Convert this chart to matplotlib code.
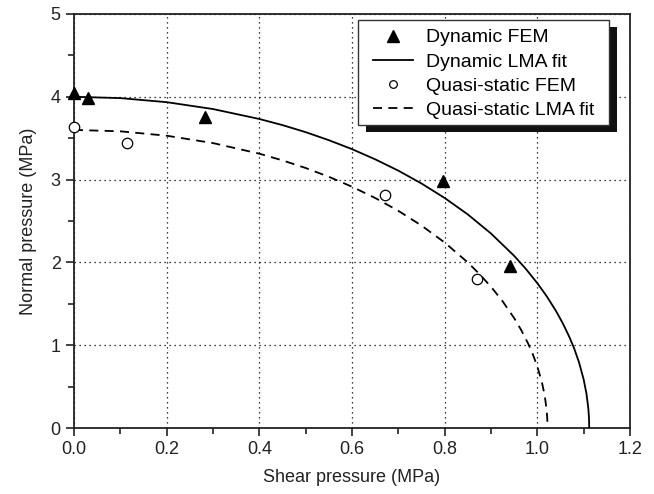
import matplotlib
matplotlib.use("Agg")
import matplotlib.pyplot as plt
from matplotlib.patches import Rectangle
from matplotlib.ticker import MultipleLocator, FormatStrFormatter

plt.rcParams['font.family'] = ['Liberation Sans', 'DejaVu Sans']

# ==================== data ====================
dyn_fem_x = [0.0, 0.03, 0.283, 0.797, 0.941]
dyn_fem_y = [4.05, 3.98, 3.75, 2.98, 1.96]

qs_fem_x = [0.0, 0.115, 0.671, 0.869]
qs_fem_y = [3.635, 3.446, 2.81, 1.80]

dyn_fit_x = [0.0, 0.1, 0.2, 0.3, 0.4, 0.45, 0.5, 0.55, 0.6, 0.65, 0.7, 0.75, 0.8, 0.85,
             0.9, 0.95, 0.975, 1.0, 1.02, 1.04, 1.055, 1.07, 1.08, 1.09, 1.10, 1.106,
             1.110, 1.1115, 1.112]
dyn_fit_y = [4.0, 3.984, 3.935, 3.852, 3.732, 3.658, 3.573, 3.476, 3.368, 3.245, 3.108, 2.953,
             2.778, 2.579, 2.349, 2.079, 1.923, 1.749, 1.593, 1.416, 1.264, 1.089, 0.953,
             0.792, 0.586, 0.415, 0.24, 0.12, 0.0]

qs_fit_x = [0.0, 0.1, 0.2, 0.3, 0.4, 0.45, 0.5, 0.55, 0.6, 0.65, 0.7, 0.75, 0.8, 0.85,
            0.875, 0.9, 0.925, 0.95, 0.965, 0.98, 0.99, 1.0, 1.01, 1.016, 1.02, 1.0215, 1.022]
qs_fit_y = [3.6, 3.583, 3.530, 3.441, 3.313, 3.232, 3.140, 3.034, 2.914, 2.778, 2.623, 2.445,
            2.240, 1.999, 1.860, 1.706, 1.531, 1.327, 1.185, 1.021, 0.894, 0.743, 0.550,
            0.389, 0.225, 0.11, 0.0]
# =================================================================

fig = plt.figure(figsize=(6.54, 4.94), dpi=100)
ax = fig.add_axes([0.1131, 0.1336, 0.8502, 0.8381])

ax.plot(dyn_fem_x, dyn_fem_y, linestyle='none', marker='^', color='black',
        markersize=9, label='Dynamic FEM', clip_on=False, zorder=4)
ax.plot(dyn_fit_x, dyn_fit_y, color='black', lw=1.3, label='Dynamic LMA fit', zorder=3)
ax.plot(qs_fem_x, qs_fem_y, linestyle='none', marker='o', markerfacecolor='white',
        markeredgecolor='black', markeredgewidth=0.9, markersize=7.5,
        label='Quasi-static FEM', clip_on=False, zorder=4)
ax.plot(qs_fit_x, qs_fit_y, color='black', lw=1.3, linestyle=(0, (5, 3.5)),
        label='Quasi-static LMA fit', zorder=3)

ax.set_xlim(0, 1.2)
ax.set_ylim(0, 5)
ax.xaxis.set_major_locator(MultipleLocator(0.2))
ax.xaxis.set_minor_locator(MultipleLocator(0.1))
ax.yaxis.set_major_locator(MultipleLocator(1))
ax.yaxis.set_minor_locator(MultipleLocator(0.5))
ax.xaxis.set_major_formatter(FormatStrFormatter('%.1f'))

ax.tick_params(which='major', direction='out', length=6, width=1.2, labelsize=13,
               color='#222222', labelcolor='#222222')
ax.tick_params(which='minor', direction='out', length=4, width=1.2, color='#222222')
for s in ax.spines.values():
    s.set_linewidth(1.3)
    s.set_color('#222222')

ax.grid(True, which='major', linestyle=(0, (1, 3)), color='black', lw=0.9)

ax.set_xlabel('Shear pressure (MPa)', fontsize=13, labelpad=8, color='#222222')
ax.set_ylabel('Normal pressure (MPa)', fontsize=13, labelpad=10, color='#222222')

# legend entries without a frame; frame and drop shadow drawn by hand
leg = ax.legend(loc='upper left', bbox_to_anchor=(0.537, 0.964), fontsize=14,
                frameon=False, handlelength=2.1, handletextpad=0.65,
                labelspacing=0.33, borderpad=0, borderaxespad=0)
leg.set_zorder(7)
leg.legend_handles[0].set_markersize(8)
leg.legend_handles[2].set_markersize(5.5)

px = 1 / 556
py = 1 / 414
frame = Rectangle((0.5108, 0.7319), 0.4514, 0.2536, transform=ax.transAxes,
                  facecolor='white', edgecolor='#333333', lw=1.0, zorder=6, clip_on=False)
shadow = Rectangle((0.5108 + 8 * px, 0.7319 - 7 * py), 0.4514, 0.2536, transform=ax.transAxes,
                   facecolor='#111111', edgecolor='none', zorder=5.5, clip_on=False)
ax.add_patch(shadow)
ax.add_patch(frame)

fig.savefig('out.png', dpi=100)
